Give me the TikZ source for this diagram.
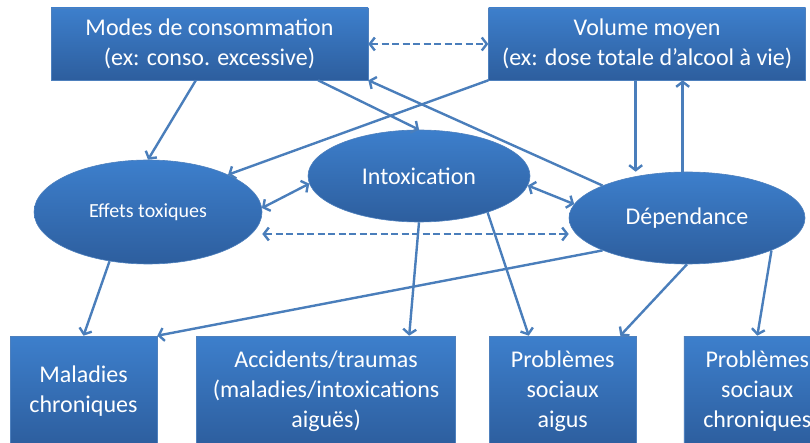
\documentclass[tikz,border=0pt]{standalone}
\usepackage{fontspec}
\setmainfont{Carlito}
\usetikzlibrary{shapes.geometric,arrows.meta,positioning,calc}

\definecolor{boxtop}{RGB}{61,127,204}
\definecolor{boxbottom}{RGB}{45,94,158}
\definecolor{boxedge}{RGB}{78,128,189}
\definecolor{linkblue}{RGB}{74,126,187}

\begin{document}
\begin{tikzpicture}[
    x=1pt, y=-1pt,
    box/.style={rectangle, draw=boxedge, line width=0.6pt, top color=boxtop, bottom color=boxbottom, text=white, align=center, inner sep=0pt, font=\fontsize{24}{30}\selectfont},
    blob/.style={ellipse, draw=boxedge, line width=0.6pt, top color=boxtop, bottom color=boxbottom, text=white, align=center, inner sep=0pt, font=\fontsize{24}{30}\selectfont},
    line/.style={draw=linkblue, line width=2.4pt, -{Straight Barb[length=5pt, width=13pt]}},
    both/.style={line, {Straight Barb[length=5pt, width=13pt]}-{Straight Barb[length=5pt, width=13pt]}},
    dline/.style={both, dash pattern=on 7pt off 3.5pt}
]
\useasboundingbox (0,0) rectangle (810,443);
\clip (0,0) rectangle (810,443);

% Exposure
\node [box, minimum width=317, minimum height=72] at (209.5,44) (modes) {Modes de consommation\\(ex: conso. excessive)};
\node [box, minimum width=317, minimum height=72, right=120pt of modes] (volume) {Volume moyen\\(ex: dose totale d’alcool à vie)};

% Mechanisms
\node [blob, minimum width=228, minimum height=104, font=\fontsize{20}{24}\selectfont] at (148,212) (effets) {Effets toxiques};
\node [blob, minimum width=222, minimum height=92] at (419,176) (intox) {Intoxication};
\node [blob, minimum width=236, minimum height=92] at (687,218) (dep) {Dépendance};

% Outcomes
\node [box, minimum width=147, minimum height=110] at (83.5,391) (maladies) {Maladies\\chroniques};
\node [box, minimum width=259, minimum height=110, right=39pt of maladies] (accidents) {Accidents/traumas\\(maladies/intoxications\\aiguës)};
\node [box, minimum width=147, minimum height=110, right=33pt of accidents] (aigus) {Problèmes\\sociaux\\aigus};
\node [box, minimum width=147, minimum height=110, right=47pt of aigus] (chron) {Problèmes\\sociaux\\chroniques};

% Connections
\coordinate (vdown) at ($(volume.south west)!.464!(volume.south east)$);
\coordinate (vup) at ($(volume.south west)!.612!(volume.south east)$);
\path [dline] (modes.east) -- (volume.west);
\path [line] ($(modes.south west)!.457!(modes.south east)$) -- (effets.north);
\path [line] ($(modes.south west)!.842!(modes.south east)$) -- (intox.north);
\path [line] (dep.159) -- (modes.south east);
\path [line] (volume.south west) -- (effets.25);
\path [line] (vdown) -- (vdown |- dep.north);
\path [line] (vup |- dep.north) -- (vup);
\path [both] (effets.2) -- (intox.184);
\path [both] (intox.355) -- (dep.173);
\path [dline] ([yshift=-22pt]effets.east) -- ([yshift=-16pt]dep.west);
\path [line] (effets.232) -- (maladies.north);
\path [line] (intox.south) -- ($(accidents.north west)!.82!(accidents.north east)$);
\path [line] (intox.332) -- ($(aigus.north west)!.27!(aigus.north east)$);
\path [line] (dep.201) -- (maladies.north east);
\path [line] (dep.south) -- ($(aigus.north west)!.89!(aigus.north east)$);
\path [line] (dep.339) -- (chron.north);
\end{tikzpicture}
\end{document}
